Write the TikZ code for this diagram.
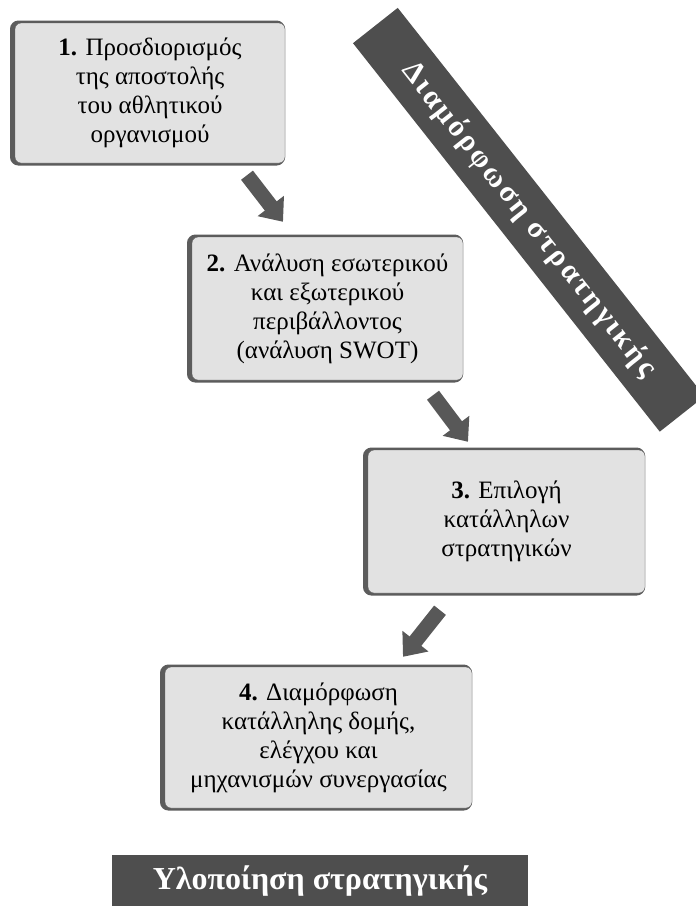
\documentclass[tikz,border=0pt]{standalone}
\usepackage{fontspec}
\setmainfont{Liberation Serif}
\usepackage{tikz}
\usetikzlibrary{positioning,arrows.meta,calc}
\definecolor{boxgray}{HTML}{E2E2E2}
\definecolor{edgegray}{HTML}{5C5C5C}
\definecolor{bandgray}{HTML}{4E4E4E}
\definecolor{arrowgray}{HTML}{585858}

\begin{document}
\begin{tikzpicture}[
      x=1pt, y=1pt,
      stage/.style={
        rectangle,
        draw=edgegray,
        fill=boxgray,
        rounded corners=6pt,
        align=center,
        inner sep=4pt,
        font=\fontsize{25}{29}\selectfont,
        preaction={draw=edgegray, line width=5pt, transform canvas={xshift=-2.5pt}},
      },
      band/.style={
        rectangle,
        fill=bandgray,
        text=white,
        inner sep=0pt,
        font=\bfseries\fontsize{32}{34}\selectfont,
      },
      flow/.style={arrowgray, line width=15pt, -{Triangle[length=20pt,width=32pt]}},
      ]
      \useasboundingbox (0,0) rectangle (696,-906);
      \node[stage, minimum width=270pt, minimum height=140pt] (s1) at (150,-93)
        {\textbf{1.} Προσδιορισμός\\της αποστολής\\του αθλητικού\\οργανισμού};
      \node[stage, minimum width=271pt, minimum height=143pt] (s2) at (327.5,-308.5)
        {\textbf{2.} Ανάλυση εσωτερικού\\και εξωτερικού\\περιβάλλοντος\\(ανάλυση SWOT)};
      \node[stage, minimum width=277pt, minimum height=143pt] (s3) at (506.5,-521.5)
        {\textbf{3.} Επιλογή\\κατάλληλων\\στρατηγικών};
      \node[stage, minimum width=307pt, minimum height=141pt] (s4) at (318.5,-737.5)
        {\textbf{4.} Διαμόρφωση\\κατάλληλης δομής,\\ελέγχου και\\μηχανισμών συνεργασίας};
      \node[band, rotate=-51.7, minimum width=495pt, minimum height=57pt, font=\bfseries\fontsize{30}{32}\selectfont] (formulation) at (528.75,-219.75)
        {\addfontfeature{LetterSpace=9}Διαμόρφωση στρατηγικής};
      \node[band, minimum width=416pt, minimum height=52pt] (implementation) at (320,-881)
        {Υλοποίηση στρατηγικής};
      \draw[flow] ([shift={(97,-12)}]s1.south) -- ([shift={(-44.5,15)}]s2.north);
      \draw[flow] ([shift={(105.5,-15)}]s2.south) -- ([shift={(-38.5,8)}]s3.north);
      \draw[flow] ([shift={(-66.5,-17)}]s3.south) -- ([shift={(84.5,10)}]s4.north);
    \end{tikzpicture}
\end{document}
